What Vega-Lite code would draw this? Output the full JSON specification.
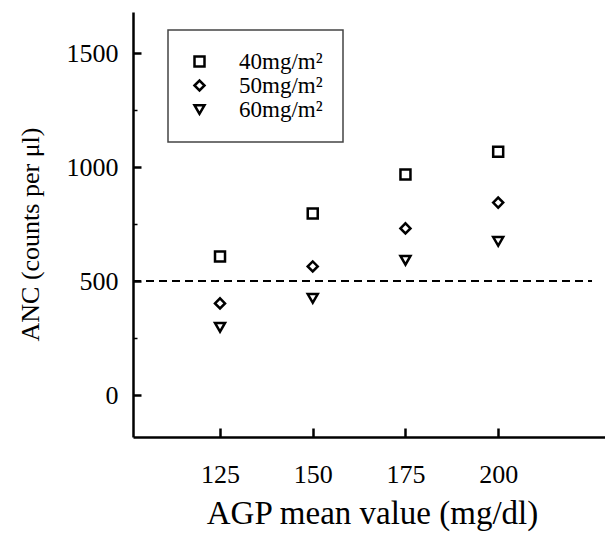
{
  "$schema": "https://vega.github.io/schema/vega-lite/v6.json",
  "width": 472,
  "height": 425,
  "autosize": "none",
  "padding": {"left": 133, "top": 12, "right": 0, "bottom": 101},
  "background": "white",
  "config": {
    "view": {"stroke": null},
    "font": "Liberation Serif",
    "axis": {"grid": false, "domainColor": "black", "tickColor": "black", "labelColor": "black", "titleColor": "black", "labelFont": "Liberation Serif", "titleFont": "Liberation Serif", "titleFontWeight": "normal"},
    "legend": {"strokeWidth": 1.5, "labelFont": "Liberation Serif", "labelFontSize": 23}
  },
  "datasets": {
    "pts": [
      {"agp": 125, "anc": 608, "dose": "40mg/m²"},
      {"agp": 125, "anc": 402, "dose": "50mg/m²"},
      {"agp": 125, "anc": 297, "dose": "60mg/m²"},
      {"agp": 150, "anc": 796, "dose": "40mg/m²"},
      {"agp": 150, "anc": 564, "dose": "50mg/m²"},
      {"agp": 150, "anc": 424, "dose": "60mg/m²"},
      {"agp": 175, "anc": 967, "dose": "40mg/m²"},
      {"agp": 175, "anc": 731, "dose": "50mg/m²"},
      {"agp": 175, "anc": 591, "dose": "60mg/m²"},
      {"agp": 200, "anc": 1067, "dose": "40mg/m²"},
      {"agp": 200, "anc": 844, "dose": "50mg/m²"},
      {"agp": 200, "anc": 674, "dose": "60mg/m²"}
    ]
  },
  "resolve": {"axis": {"y": "independent"}},
  "layer": [
    {
      "data": {"values": [{"ref": 500}]},
      "mark": {"type": "rule", "color": "black", "strokeWidth": 2, "strokeDash": [8, 5]},
      "encoding": {
        "y": {"field": "ref", "type": "quantitative", "scale": {"domain": [-184, 1680], "nice": false, "zero": false}, "axis": null},
        "x": {"datum": 101.54, "type": "quantitative", "scale": {"domain": [101.54, 228.8], "nice": false, "zero": false}},
        "x2": {"datum": 225.3}
      }
    },
    {
      "data": {"name": "pts"},
      "mark": {"type": "point", "filled": false, "color": "black", "strokeWidth": 2.5, "size": 100, "opacity": 1},
      "encoding": {
        "x": {
          "field": "agp", "type": "quantitative",
          "scale": {"domain": [101.54, 228.8], "nice": false, "zero": false},
          "axis": {"values": [125, 150, 175, 200], "format": "d", "tickSize": -9, "tickWidth": 2.5, "domainWidth": 2.5, "labelFontSize": 26, "labelPadding": 33, "labelBaseline": "top",
                   "title": "AGP mean value (mg/dl)", "titleFontSize": 33, "titleX": 239, "titleY": 86, "titleAnchor": "middle", "titleAlign": "center", "titleBaseline": "alphabetic"}
        },
        "y": {
          "field": "anc", "type": "quantitative",
          "scale": {"domain": [-184, 1680], "nice": false, "zero": false},
          "axis": {"values": [0, 500, 1000, 1500], "format": "d", "tickSize": -8, "tickWidth": 2.5, "domainWidth": 2.5, "labelFontSize": 26, "labelPadding": 23,
                   "title": "ANC (counts per μl)", "titleFontSize": 26, "titleAngle": -90, "titleX": -95, "titleY": 222, "titleAlign": "center", "titleBaseline": "alphabetic"}
        },
        "shape": {
          "field": "dose", "type": "nominal",
          "scale": {"domain": ["40mg/m²", "50mg/m²", "60mg/m²"], "range": ["square", "diamond", "triangle-down"]},
          "legend": {"title": null, "orient": "none", "legendX": 35, "legendY": 18, "padding": 20, "strokeColor": "#444", "symbolSize": 100, "symbolStrokeWidth": 2.5, "symbolStrokeColor": "black", "symbolFillColor": "transparent", "labelFontSize": 23, "labelFont": "Liberation Serif", "labelColor": "black", "labelOffset": 28, "rowPadding": -1, "labelLimit": 400}
        }
      }
    },
    {
      "data": {"values": [{"m": 250}, {"m": 750}, {"m": 1250}]},
      "mark": {"type": "point", "opacity": 0},
      "encoding": {
        "y": {"field": "m", "type": "quantitative", "scale": {"domain": [-184, 1680], "nice": false, "zero": false},
              "axis": {"orient": "left", "values": [250, 750, 1250], "labels": false, "domain": false, "tickSize": -4, "tickWidth": 1.5, "title": null}}
      }
    }
  ]
}
